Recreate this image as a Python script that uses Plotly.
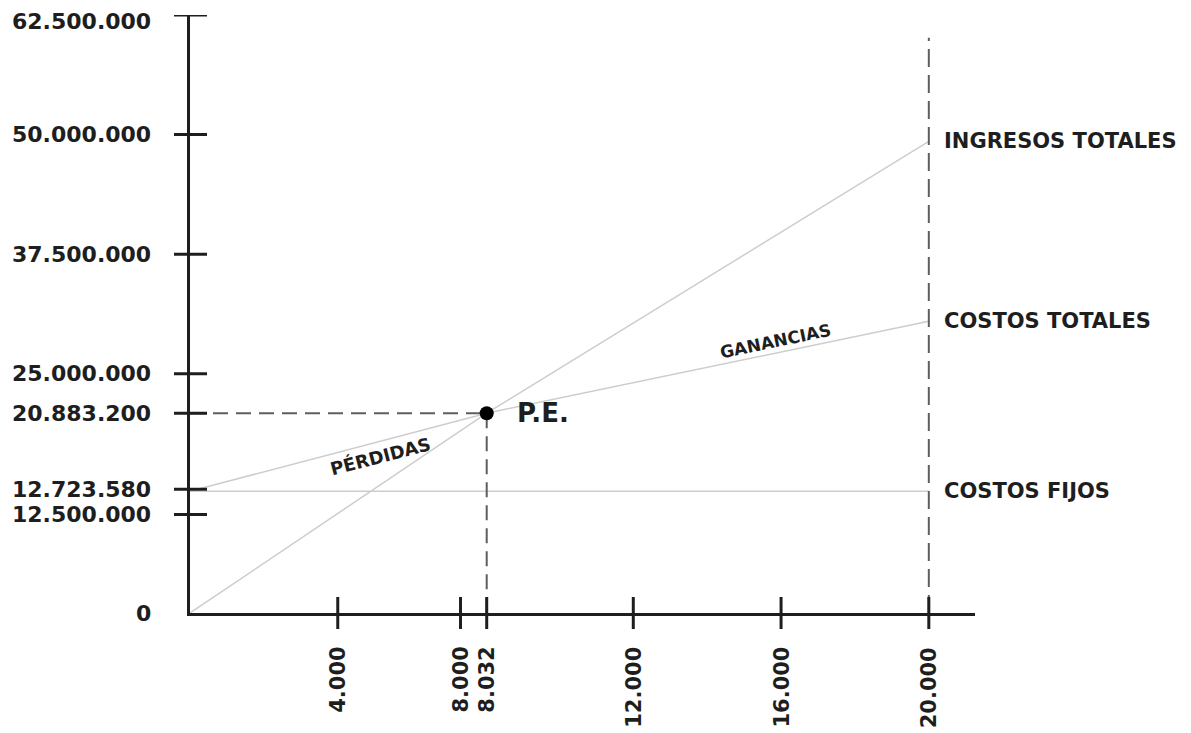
import plotly.graph_objects as go

# Units sold (x) and money amounts (y) for the break-even chart
unidades = [0, 8032, 20000]
ingresos_totales = [0, 20883200, 49300000]
costos_totales = [12723580, 20883200, 30500000]
costos_fijos = [12723580, 12723580, 12723580]

pe_unidades = 8032
pe_valor = 20883200

x_ticks = [4000, 8000, 8032, 12000, 16000, 20000]
x_tick_text = ["4.000", "8.000", "8.032", "12.000", "16.000", "20.000"]
y_ticks = [0, 12500000, 12723580, 20883200, 25000000, 37500000, 50000000, 62500000]
y_tick_text = ["0", "12.500.000", "12.723.580", "20.883.200", "25.000.000",
               "37.500.000", "50.000.000", "62.500.000"]

# small pixel nudges so that neighbouring tick labels do not collide
x_tick_nudge = {8000: -25}
y_tick_nudge = {12500000: -21, 12723580: 2}
# label-only offset for the top value, which sits just under its tick
y_label_extra = {62500000: -6}

X_MAX = 21250
Y_MAX = 62500000

FONT = "DejaVu Sans"
INK = "#1e1e1e"
LINE_GREY = "#cdcdcd"
DASH_GREY = "#5e5e5e"

W, H = 1191, 733
ML, MR, MT, MB = 190, 216, 15, 120
plot_w = W - ML - MR
plot_h = H - MT - MB

fig = go.Figure()

line_style = dict(color=LINE_GREY, width=1.5)
fig.add_trace(go.Scatter(x=unidades, y=ingresos_totales, mode="lines", line=line_style))
fig.add_trace(go.Scatter(x=unidades, y=costos_totales, mode="lines", line=line_style))
fig.add_trace(go.Scatter(x=unidades, y=costos_fijos, mode="lines", line=line_style))

# dashed guides to the break-even point and at the last unit value
dash = dict(color=DASH_GREY, width=2, dash="15px,8px")
fig.add_trace(go.Scatter(x=[0, pe_unidades], y=[pe_valor, pe_valor], mode="lines", line=dash))
fig.add_trace(go.Scatter(x=[pe_unidades, pe_unidades], y=[pe_valor, 0], mode="lines", line=dash))
fig.add_shape(type="line", xref="x", yref="paper", x0=unidades[-1], x1=unidades[-1],
              y0=0, y1=0.962, line=dict(color=DASH_GREY, width=2, dash="18px,8px"))

# break-even point
fig.add_trace(go.Scatter(x=[pe_unidades], y=[pe_valor], mode="markers",
                         marker=dict(color="black", size=14)))

shapes = []
annotations = []

# y-axis ticks crossing the axis, with labels on the left
for v, t in zip(y_ticks, y_tick_text):
    nudge = y_tick_nudge.get(v, 0)
    if nudge:
        shapes.append(dict(type="line", xref="paper", yref="y", ysizemode="pixel",
                           yanchor=v, y0=nudge, y1=nudge,
                           x0=-16 / plot_w, x1=17 / plot_w,
                           line=dict(color=INK, width=3)))
    elif v > 0:
        shapes.append(dict(type="line", xref="paper", yref="y", y0=v, y1=v,
                           x0=-16 / plot_w, x1=17 / plot_w,
                           line=dict(color=INK, width=3)))
    annotations.append(dict(text=t, xref="paper", yref="y", x=-37 / plot_w, y=v,
                            xanchor="right", yanchor="middle", showarrow=False,
                            yshift=nudge + y_label_extra.get(v, 0),
                            font=dict(family=FONT, size=22, color=INK, weight="bold")))

# x-axis ticks crossing the axis, with rotated labels below
for v, t in zip(x_ticks, x_tick_text):
    nudge = x_tick_nudge.get(v, 0)
    if nudge:
        shapes.append(dict(type="line", xref="x", yref="paper", xsizemode="pixel",
                           xanchor=v, x0=nudge, x1=nudge,
                           y0=-16 / plot_h, y1=16 / plot_h,
                           line=dict(color=INK, width=3)))
    else:
        shapes.append(dict(type="line", xref="x", yref="paper", x0=v, x1=v,
                           y0=-16 / plot_h, y1=16 / plot_h,
                           line=dict(color=INK, width=3)))
    annotations.append(dict(text=t, xref="x", yref="paper", x=v, y=-32 / plot_h,
                            xanchor="center", yanchor="top", textangle=-90,
                            showarrow=False, xshift=nudge,
                            font=dict(family=FONT, size=21, color=INK, weight="bold")))

# series names at the right end of each line
label_font = dict(family=FONT, size=21, color=INK, weight="bold")
for nombre, serie in [("INGRESOS TOTALES", ingresos_totales),
                      ("COSTOS TOTALES", costos_totales),
                      ("COSTOS FIJOS", costos_fijos)]:
    annotations.append(dict(text=nombre, xref="x", yref="y", x=unidades[-1], y=serie[-1],
                            xanchor="left", yanchor="middle", xshift=13,
                            showarrow=False, font=label_font))

annotations.append(dict(text="P.E.", xref="x", yref="y", x=pe_unidades, y=pe_valor,
                        xanchor="left", yanchor="middle", xshift=28, showarrow=False,
                        font=dict(family=FONT, size=26, color=INK, weight="bold")))


def costo_total_en(u):
    # linear interpolation along the total-cost polyline
    for i in range(len(unidades) - 1):
        if unidades[i] <= u <= unidades[i + 1]:
            f = (u - unidades[i]) / (unidades[i + 1] - unidades[i])
            return costos_totales[i] + f * (costos_totales[i + 1] - costos_totales[i])
    return costos_totales[-1]


perdidas_u = 5150
ganancias_u = 15860
annotations.append(dict(text="PÉRDIDAS", xref="x", yref="y", x=perdidas_u,
                        y=costo_total_en(perdidas_u), yshift=-15, textangle=-14.5,
                        showarrow=False,
                        font=dict(family=FONT, size=18, color=INK, weight="bold")))
annotations.append(dict(text="GANANCIAS", xref="x", yref="y", x=ganancias_u,
                        y=costo_total_en(ganancias_u), yshift=12, textangle=-11.8,
                        showarrow=False,
                        font=dict(family=FONT, size=17, color=INK, weight="bold")))

fig.update_layout(
    width=W, height=H,
    margin=dict(l=ML, r=MR, t=MT, b=MB),
    paper_bgcolor="white", plot_bgcolor="white",
    showlegend=False,
    shapes=fig.layout.shapes + tuple(shapes),
    annotations=annotations,
    xaxis=dict(range=[0, X_MAX], showgrid=False, zeroline=False, showticklabels=False,
               ticks="", showline=True, linecolor=INK, linewidth=3),
    yaxis=dict(range=[0, Y_MAX], showgrid=False, zeroline=False, showticklabels=False,
               ticks="", showline=True, linecolor=INK, linewidth=3),
)

fig.write_html("out.html")
